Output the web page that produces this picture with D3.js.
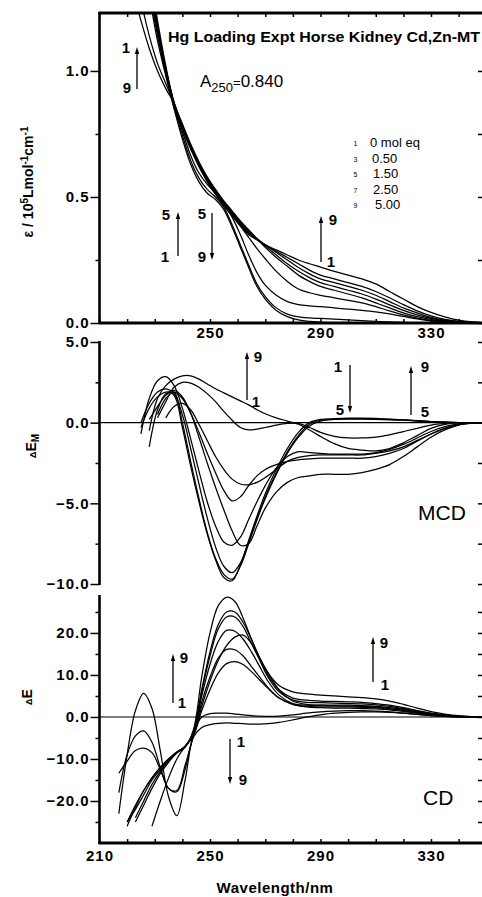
<!DOCTYPE html>
<html><head><meta charset="utf-8">
<script src="https://cdn.jsdelivr.net/npm/d3@7"></script>
<style>
body{margin:0;background:#fff}
svg{display:block}
text{font-family:"Liberation Sans",Arial,sans-serif;fill:#000}
</style>
</head><body>
<svg id="c" width="482" height="897"></svg>
<script>
// ---------- DATA ----------
const absWl = [222,225,228,231,234,237,240,243,246,249,252,255,258,261,264,267,270,274,278,282,286,290,295,300,305,310,315,320,325,330,335,340,345,350];
const absSpectra = [
 [1.7,1.5,1.3,1.12,0.98,0.85,0.73,0.63,0.56,0.515,0.49,0.45,0.38,0.30,0.22,0.145,0.095,0.05,0.025,0.012,0.006,0.003,0.001,0,0,0,0,0,0,0,0,0,0,0],
 [1.72,1.52,1.32,1.14,0.99,0.855,0.745,0.645,0.575,0.53,0.5,0.46,0.39,0.31,0.23,0.155,0.105,0.06,0.035,0.024,0.02,0.018,0.015,0.012,0.009,0.006,0.004,0.002,0.001,0,0,0,0,0],
 [1.75,1.55,1.35,1.16,1.0,0.865,0.76,0.665,0.595,0.55,0.515,0.475,0.42,0.35,0.27,0.2,0.15,0.11,0.085,0.073,0.068,0.065,0.06,0.055,0.05,0.044,0.036,0.026,0.016,0.008,0.004,0.001,0,0],
 [1.78,1.58,1.38,1.18,1.01,0.87,0.78,0.695,0.625,0.57,0.52,0.475,0.43,0.385,0.34,0.295,0.255,0.205,0.165,0.135,0.12,0.11,0.1,0.09,0.08,0.065,0.048,0.032,0.019,0.01,0.005,0.002,0,0],
 [1.8,1.6,1.4,1.2,1.02,0.875,0.79,0.71,0.64,0.58,0.53,0.485,0.445,0.405,0.37,0.335,0.3,0.26,0.225,0.19,0.165,0.145,0.13,0.115,0.1,0.08,0.06,0.04,0.025,0.014,0.007,0.003,0.001,0],
 [1.78,1.58,1.38,1.18,1.01,0.875,0.785,0.705,0.635,0.575,0.525,0.48,0.44,0.4,0.365,0.335,0.305,0.27,0.235,0.205,0.18,0.16,0.145,0.13,0.115,0.095,0.072,0.05,0.032,0.018,0.009,0.004,0.001,0],
 [1.75,1.55,1.35,1.16,1.0,0.87,0.78,0.7,0.63,0.57,0.52,0.475,0.435,0.395,0.36,0.335,0.31,0.28,0.25,0.22,0.195,0.175,0.16,0.145,0.13,0.11,0.085,0.06,0.04,0.022,0.011,0.005,0.002,0],
 [1.45,1.28,1.14,1.03,0.95,0.87,0.775,0.695,0.625,0.565,0.515,0.47,0.43,0.39,0.355,0.33,0.31,0.285,0.26,0.235,0.21,0.19,0.175,0.16,0.145,0.125,0.1,0.073,0.048,0.028,0.014,0.006,0.002,0],
 [1.32,1.2,1.09,1.0,0.93,0.87,0.77,0.69,0.62,0.56,0.51,0.465,0.425,0.385,0.35,0.33,0.31,0.29,0.27,0.25,0.235,0.222,0.205,0.19,0.175,0.155,0.125,0.095,0.065,0.042,0.024,0.011,0.004,0.001]
];
const mcdWl = [225,228,231,234,237,240,243,246,249,252,255,258,261,264,267,270,274,278,282,286,290,295,300,305,310,315,320,325,330,335,340,345,350];
const mcdSpectra = [
 [-0.3,0.9,1.6,1.9,1.7,-0.3,-2.7,-4.9,-6.9,-8.5,-9.6,-9.8,-8.8,-7.3,-5.8,-4.4,-2.9,-1.6,-0.6,0.0,0.2,0.25,0.28,0.28,0.26,0.22,0.18,0.12,0.07,0.03,0.01,0,0],
 [null,-1.5,0.8,1.8,1.9,0.0,-2.4,-4.7,-6.8,-8.4,-9.4,-9.7,-8.9,-7.5,-6.0,-4.6,-3.1,-1.8,-0.8,-0.1,0.15,0.22,0.25,0.25,0.24,0.21,0.17,0.12,0.07,0.03,0.01,0,0],
 [0.0,1.2,1.9,2.1,1.8,0.5,-1.6,-3.8,-5.9,-7.7,-8.9,-9.3,-8.7,-7.4,-6.0,-4.7,-3.2,-1.9,-0.9,-0.2,0.1,0.2,0.22,0.22,0.2,0.18,0.15,0.1,0.06,0.03,0.01,0,0],
 [-0.7,1.5,2.6,2.85,2.3,0.9,-1.0,-3.0,-4.9,-6.4,-7.4,-7.6,-7.1,-6.0,-4.9,-3.9,-2.8,-2.1,-1.8,-1.85,-1.9,-1.95,-1.95,-1.95,-1.85,-1.65,-1.35,-0.95,-0.55,-0.25,-0.08,0,0],
 [null,0.2,1.0,1.7,2.0,1.6,0.6,-0.9,-2.5,-4.0,-5.4,-6.7,-7.6,-7.5,-6.4,-5.3,-4.3,-3.7,-3.4,-3.3,-3.2,-3.2,-3.2,-3.1,-2.9,-2.6,-2.1,-1.5,-0.9,-0.45,-0.15,-0.03,0],
 [null,null,0.5,1.5,1.9,1.5,0.6,-0.6,-1.9,-3.1,-4.2,-4.85,-4.6,-3.9,-3.3,-2.9,-2.6,-2.4,-2.3,-2.25,-2.2,-2.2,-2.2,-2.2,-2.1,-1.9,-1.6,-1.15,-0.7,-0.35,-0.12,-0.03,0],
 [null,null,null,0.3,1.0,1.2,0.8,-0.1,-1.1,-2.1,-2.9,-3.5,-3.8,-3.85,-3.7,-3.4,-2.9,-2.4,-2.15,-2.05,-2.0,-2.0,-2.0,-2.0,-1.9,-1.75,-1.5,-1.1,-0.7,-0.35,-0.12,-0.03,0],
 [null,null,0.3,1.3,2.2,2.5,2.45,2.2,1.8,1.3,0.7,0.15,-0.3,-0.45,-0.4,-0.3,-0.15,-0.05,-0.05,-0.3,-0.6,-0.85,-0.95,-0.95,-0.9,-0.75,-0.55,-0.35,-0.15,-0.05,0,0,0],
 [null,-0.5,1.5,2.3,2.7,2.9,2.9,2.7,2.4,2.1,1.85,1.6,1.35,1.1,0.8,0.55,0.3,0.1,-0.1,-0.45,-0.85,-1.3,-1.6,-1.7,-1.75,-1.6,-1.25,-0.8,-0.35,-0.1,0,0,0]
];
const cdWl = [217,220,223,226,229,232,235,238,241,244,247,250,253,256,259,262,265,268,271,275,280,285,290,295,300,305,310,315,320,325,330,335,340,345,350];
const cdSpectra = [
 [null,-26,-21.5,-17.5,-14.5,-12,-10,-8.5,-7.2,-3,9.5,20,26.5,28.5,27.5,23.5,18.5,14,10.5,7.5,6,5.5,5.2,5,4.8,4.6,4.3,3.8,3.0,2.1,1.3,0.7,0.3,0.1,0],
 [null,-25,-22,-18.5,-15,-12.5,-10.2,-8.5,-7,-3.5,6.5,15.5,22,25,25,22.5,18.5,14,10,6.5,4.5,4,3.8,3.7,3.6,3.5,3.2,2.8,2.2,1.5,0.9,0.5,0.2,0.05,0],
 [null,null,-24,-20,-16,-13,-10.5,-8.5,-7,-3.5,6,14.5,21,23.8,23.8,21.5,17.5,13.5,9.5,6,4,3.5,3.4,3.3,3.2,3.1,2.9,2.5,2,1.4,0.8,0.4,0.15,0.05,0],
 [null,-25,-21,-17.5,-14.5,-12,-10,-8.3,-7,-3.8,5,12.5,18,20.6,20.4,18.5,15.5,12,8.5,5.2,3.2,2.8,2.8,2.8,2.8,2.7,2.5,2.2,1.8,1.2,0.7,0.35,0.1,0.03,0],
 [null,null,-25,-21,-17,-13.5,-10.8,-8.5,-7,-4.2,2.5,8.5,13.5,17,19,19.5,17.5,14,10.5,6.5,3.8,3,2.8,2.7,2.6,2.5,2.3,2,1.6,1.1,0.6,0.3,0.1,0.02,0],
 [-13.4,-10.5,-8,-7.4,-8.5,-12.5,-17,-17.5,-11.5,-4.5,3.5,9.5,14,16.1,16,14.5,12,9.5,7,4.5,3,2.5,2.4,2.4,2.4,2.3,2.2,1.9,1.5,1,0.55,0.25,0.08,0.02,0],
 [null,null,null,null,-26,-20,-14.5,-10,-7,-4.5,1.5,6.5,10.5,12.7,13.2,12.5,10.8,8.8,6.8,4.5,3,2.4,2.2,2.1,2.1,2,1.9,1.7,1.3,0.9,0.5,0.2,0.07,0.02,0],
 [-23,-9,1.5,5.6,2,-8,-19,-23.5,-15,-4,0,0.8,0.9,0.9,0.7,0.5,0.3,0.2,0.15,0.2,0.5,0.9,1.2,1.4,1.5,1.5,1.4,1.2,0.9,0.6,0.35,0.15,0.05,0,0],
 [-18,-9,-4.5,-3.3,-6,-12,-17,-17.8,-12.5,-4.8,-2.5,-1.8,-1.5,-1.4,-1.5,-1.6,-1.7,-1.7,-1.6,-1.3,-0.7,0,0.5,0.9,1.1,1.2,1.2,1.1,0.9,0.6,0.35,0.15,0.05,0,0]
];
const xTickLabelsTop = [250,290,330];
const xTickLabelsBottom = [210,250,290,330];
const xMinorTicks = d3.range(210,351,10);
const absTicks = [0,0.5,1.0], absMinor = [0.25,0.75];
const mcdTicks = [5,0,-5,-10], mcdMinor = [2.5,-2.5,-7.5];
const cdTicks = [20,10,0,-10,-20], cdMinor = [25,15,5,-5,-15,-25];
const legendIdx = ['1','3','5','7','9'];
const legendVal = ['0 mol eq','0.50','1.50','2.50','5.00'];

// ---------- SCALES ----------
const svg = d3.select('#c');
const x = d3.scaleLinear().domain([210,350]).range([99.5,486.25]);
const yA = d3.scaleLinear().domain([0,1.23]).range([323,13]);
const yM = d3.scaleLinear().domain([-10,5]).range([584,342]);
const yC = d3.scaleLinear().domain([-30,28.8]).range([843,596]);
const fmt = d3.format('.1f');
const AX = 99.5, RX = 486;

const defs = svg.append('defs');
function clip(id, y0, y1){
  defs.append('clipPath').attr('id',id).append('rect').attr('x',AX).attr('y',y0).attr('width',RX-AX).attr('height',y1-y0);
}
clip('cA',13,323); clip('cM',330,590); clip('cC',596,843);

function curves(wl, series, y, clipId){
  const line = d3.line().defined(d=>d[1]!=null).x(d=>x(d[0])).y(d=>y(d[1])).curve(d3.curveCatmullRom.alpha(0.5));
  svg.append('g').attr('clip-path',`url(#${clipId})`).selectAll('path').data(series).join('path')
    .attr('d',s=>line(wl.map((w,i)=>[w,s[i]])))
    .attr('fill','none').attr('stroke','#000').attr('stroke-width',1.25).attr('stroke-linejoin','round');
}
function styleAxis(g){
  g.attr('font-family','"Liberation Sans",Arial,sans-serif').attr('font-size',15).attr('font-weight','bold');
  g.selectAll('.tick line').attr('stroke','#000').attr('stroke-width',1.5);
  g.selectAll('.tick text').attr('letter-spacing',1).attr('fill','#000');
}
function leftAxis(y, major, minor, top, bottom){
  const g = svg.append('g').attr('transform',`translate(${AX},0)`)
    .call(d3.axisLeft(y).tickValues(major).tickSize(9).tickPadding(1).tickFormat(fmt));
  g.select('.domain').remove(); styleAxis(g);
  const m = svg.append('g').attr('transform',`translate(${AX},0)`)
    .call(d3.axisLeft(y).tickValues(minor).tickSize(4).tickFormat(''));
  m.select('.domain').remove(); styleAxis(m);
  const r = svg.append('g').attr('transform',`translate(${RX},0)`)
    .call(d3.axisLeft(y).tickValues(major.concat(minor)).tickSize(8).tickFormat(''));
  r.select('.domain').remove(); styleAxis(r);
  svg.append('line').attr('x1',AX).attr('x2',AX).attr('y1',top).attr('y2',bottom).attr('stroke','#000').attr('stroke-width',2.6);
}
function bottomAxis(yPos, labels, pad){
  const g = svg.append('g').attr('transform',`translate(0,${yPos})`)
    .call(d3.axisBottom(x).tickValues(labels).tickSize(0).tickPadding(pad).tickFormat(d3.format('d')));
  g.select('.domain').remove(); styleAxis(g);
  const t = svg.append('g').attr('transform',`translate(0,${yPos})`)
    .call(d3.axisBottom(x).tickValues(xMinorTicks).tickSize(-4).tickFormat(''));
  t.select('.domain').remove(); styleAxis(t);
  svg.append('line').attr('x1',AX-1).attr('x2',RX).attr('y1',yPos).attr('y2',yPos).attr('stroke','#000').attr('stroke-width',2.8);
}
function zeroLine(y){
  svg.append('line').attr('x1',AX).attr('x2',RX).attr('y1',y(0)).attr('y2',y(0)).attr('stroke','#000').attr('stroke-width',1.2);
}
function arrow(xp, yTail, yHead){
  const dir = yHead < yTail ? 1 : -1;
  svg.append('line').attr('x1',xp).attr('x2',xp).attr('y1',yTail).attr('y2',yHead+dir*5).attr('stroke','#000').attr('stroke-width',1.3);
  svg.append('path').attr('d',`M${xp},${yHead} L${xp-2.2},${yHead+dir*7} L${xp+2.2},${yHead+dir*7} Z`).attr('fill','#000');
}
function label(txt, xp, yp, size, weight, anchor){
  return svg.append('text').attr('x',xp).attr('y',yp).attr('font-size',size||15).attr('font-weight',weight||'bold')
    .attr('text-anchor',anchor||'middle').text(txt);
}

// ---------- TOP: ABSORPTION ----------
curves(absWl, absSpectra, yA, 'cA');
leftAxis(yA, absTicks, absMinor, 12, 324);
bottomAxis(323, xTickLabelsTop, 4);
svg.append('line').attr('x1',AX-1).attr('x2',RX).attr('y1',13).attr('y2',13).attr('stroke','#000').attr('stroke-width',3);
{
  const t = svg.append('g').attr('transform','translate(0,13)')
    .call(d3.axisTop(x).tickValues(xMinorTicks).tickSize(-4).tickFormat(''));
  t.select('.domain').remove(); styleAxis(t);
}
label('Hg Loading Expt Horse Kidney Cd,Zn-MT',168,41.5,14,'bold','start').attr('textLength',312).attr('lengthAdjust','spacingAndGlyphs');
{
  const t = svg.append('text').attr('x',200).attr('y',87).attr('font-family','"DejaVu Sans",sans-serif').attr('font-size',17);
  t.append('tspan').text('A');
  t.append('tspan').attr('dy',5).attr('font-size',13).text('250');
  t.append('tspan').attr('dy',-5).attr('font-size',13).text('=');
  t.append('tspan').text('0.840');
}
legendIdx.forEach((d,i)=>{
  const yy = [147,162.5,178,193.5,208.5][i];
  svg.append('text').attr('x',355.5).attr('y',yy-1).attr('font-size',7).attr('text-anchor','middle').text(d);
  svg.append('text').attr('x',[370,372,373,373,375][i]).attr('y',yy).attr('font-family','"DejaVu Sans",sans-serif').attr('font-size',13).text(legendVal[i]);
});
label('1',126,53); label('9',127,93); arrow(137,89,47);
label('5',166,220); label('1',165,262); arrow(178,256,212);
label('5',202,219); label('9',202,262); arrow(212,213,260);
label('9',333,225); label('1',331,267); arrow(321,262,216);
{
  const t = svg.append('text').attr('transform','translate(33,182) rotate(-90)').attr('text-anchor','middle')
    .attr('font-size',14).attr('font-weight','bold');
  t.append('tspan').text('ε / 10');
  t.append('tspan').attr('dy',-5).attr('font-size',10).text('5');
  t.append('tspan').attr('dy',5).text('Lmol');
  t.append('tspan').attr('dy',-5).attr('font-size',10).text('-1');
  t.append('tspan').attr('dy',5).text('cm');
  t.append('tspan').attr('dy',-5).attr('font-size',10).text('-1');
}

// ---------- MIDDLE: MCD ----------
zeroLine(yM);
curves(mcdWl, mcdSpectra, yM, 'cM');
leftAxis(yM, mcdTicks, mcdMinor, 341, 585);
label('MCD',418,520,21,'normal','start');
label('9',258,362); label('1',256,407); arrow(247,400,352);
label('1',338,372); label('5',340,415); arrow(350,365,413);
label('9',425,372); label('5',425,417); arrow(411,415,366);
{
  const t = svg.append('text').attr('transform','translate(36,446) rotate(-90)').attr('text-anchor','middle')
    .attr('font-size',14).attr('font-weight','bold');
  t.append('tspan').attr('font-size',9).text('Δ');
  t.append('tspan').text('E');
  t.append('tspan').attr('dy',3).attr('font-size',10).text('M');
}

// ---------- BOTTOM: CD ----------
zeroLine(yC);
curves(cdWl, cdSpectra, yC, 'cC');
leftAxis(yC, cdTicks, cdMinor, 595, 844);
bottomAxis(843, xTickLabelsBottom, 7);
label('Wavelength/nm',275,893,15,'bold','middle').attr('letter-spacing',0.5);
label('CD',423,805,21,'normal','start');
label('9',184,663); label('1',182,708); arrow(173,703,654);
label('1',241,747); label('9',243,785); arrow(230,739,784);
label('9',384,648); label('1',385,690); arrow(373,682,637);
{
  const t = svg.append('text').attr('transform','translate(32,697) rotate(-90)').attr('text-anchor','middle')
    .attr('font-size',14).attr('font-weight','bold');
  t.append('tspan').attr('font-size',9).text('Δ');
  t.append('tspan').text('E');
}
</script>
</body></html>
